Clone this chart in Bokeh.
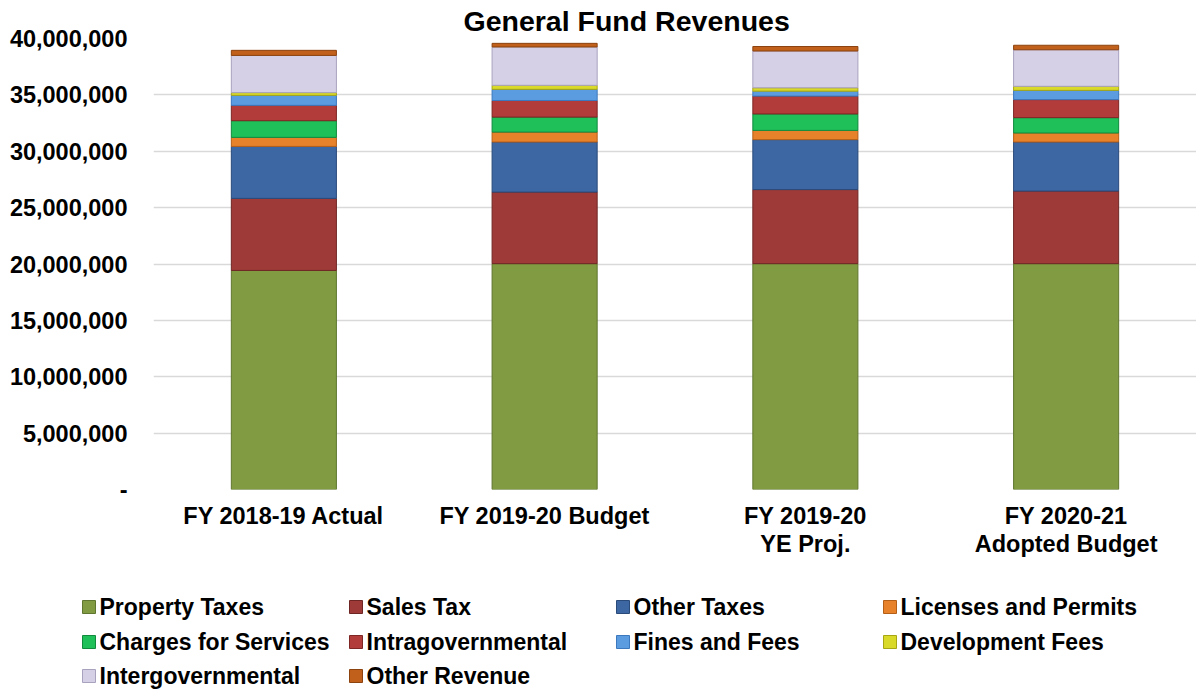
from bokeh.plotting import figure
from bokeh.models import ColumnDataSource, Range1d, FixedTicker, NumeralTickFormatter
from bokeh.layouts import column
from bokeh.core.properties import value
from bokeh.embed import file_html
from bokeh.resources import INLINE

categories = ["FY 2018-19 Actual", "FY 2019-20 Budget", "FY 2019-20\nYE Proj.", "FY 2020-21\nAdopted Budget"]
series_names = ["Property Taxes", "Sales Tax", "Other Taxes", "Licenses and Permits",
                "Charges for Services", "Intragovernmental", "Fines and Fees",
                "Development Fees", "Intergovernmental", "Other Revenue"]
property_taxes = [19430000, 20030000, 20030000, 20030000]
sales_tax = [6390000, 6350000, 6570000, 6440000]
other_taxes = [4610000, 4440000, 4430000, 4350000]
licenses_permits = [800000, 880000, 820000, 800000]
charges_services = [1480000, 1330000, 1460000, 1360000]
intragovernmental = [1360000, 1470000, 1580000, 1600000]
fines_fees = [890000, 990000, 440000, 820000]
development_fees = [240000, 360000, 300000, 360000]
intergovernmental = [3300000, 3400000, 3260000, 3240000]
other_revenue = [450000, 320000, 400000, 400000]
y_ticks = [0, 5000000, 10000000, 15000000, 20000000, 25000000, 30000000, 35000000, 40000000]

colors = ["#809b41", "#9e3b39", "#3d67a3", "#e8822a", "#1fbf5a",
          "#b23c3a", "#5b9be0", "#d9d92a", "#d6d0e6", "#c0601a"]
edge_colors = ["#5f7630", "#6e2624", "#2a4a7a", "#b35f18", "#128a3e",
               "#7e2624", "#3c78bd", "#a6a614", "#a9a2bf", "#8c430f"]

keys = ["s%d" % i for i in range(10)]
values = [property_taxes, sales_tax, other_taxes, licenses_permits, charges_services,
          intragovernmental, fines_fees, development_fees, intergovernmental, other_revenue]
data = {"x": [i + 0.5 for i in range(len(categories))]}
for k, v in zip(keys, values):
    data[k] = v
source = ColumnDataSource(data)

FONT = "Liberation Sans"

p = figure(width=1196, height=570, output_backend="svg", toolbar_location=None,
           x_range=Range1d(0, 4), y_range=Range1d(0, 40000000),
           min_border_left=153, min_border_right=0, min_border_top=38, min_border_bottom=81)
p.outline_line_color = None
p.frame_align = False

p.title.text = "General Fund  Revenues"
p.title.align = "left"
p.title.offset = 310
p.title.standoff = 4
p.title.text_font = FONT
p.title.text_font_style = "bold"
p.title.text_font_size = "28.5px"
p.title.text_color = "black"

rs = p.vbar_stack(keys, x="x", width=0.403, fill_color=colors, line_color=edge_colors,
                  line_width=1, source=source)

p.xgrid.grid_line_color = None
p.ygrid.grid_line_color = "#d9d9d9"
p.ygrid.grid_line_width = 1.5
p.ygrid.ticker = FixedTicker(ticks=y_ticks)

p.yaxis.ticker = FixedTicker(ticks=y_ticks)
p.yaxis.formatter = NumeralTickFormatter(format="0,0")
p.yaxis.major_label_overrides = {0: "-"}
p.yaxis.axis_line_color = None
p.yaxis.major_tick_line_color = None
p.yaxis.minor_tick_line_color = None
p.yaxis.major_tick_out = 0
p.yaxis.major_tick_in = 0
p.yaxis.minor_tick_out = 0
p.yaxis.major_label_standoff = 26
p.yaxis.major_label_text_font = FONT
p.yaxis.major_label_text_font_style = "bold"
p.yaxis.major_label_text_font_size = "23.5px"
p.yaxis.major_label_text_color = "black"

p.xaxis.ticker = FixedTicker(ticks=data["x"])
p.xaxis.major_label_overrides = {x: c for x, c in zip(data["x"], categories)}
p.xaxis.axis_line_color = None
p.xaxis.major_tick_line_color = None
p.xaxis.minor_tick_line_color = None
p.xaxis.major_tick_out = 0
p.xaxis.major_tick_in = 0
p.xaxis.minor_tick_out = 0
p.xaxis.major_label_standoff = 13
p.xaxis.major_label_text_font = FONT
p.xaxis.major_label_text_font_style = "bold"
p.xaxis.major_label_text_font_size = "23.5px"
p.xaxis.major_label_text_color = "black"
p.xaxis.major_label_text_line_height = 1.08

# legend panel: pixel coordinates (y grows downward)
leg = figure(width=1196, height=120, output_backend="svg", toolbar_location=None,
             x_range=Range1d(0, 1196), y_range=Range1d(690, 570),
             min_border=0, min_border_left=0, min_border_right=0,
             min_border_top=0, min_border_bottom=0)
leg.axis.visible = False
leg.grid.visible = False
leg.outline_line_color = None
leg.frame_align = False

col_left = [82, 349, 616, 883]
row_mid = [606, 641, 675]
lx, ly, tx, ty = [], [], [], []
for i in range(len(series_names)):
    r, c = divmod(i, 4)
    lx.append(col_left[c] + 6.5)
    ly.append(row_mid[r] + 0.5)
    tx.append(col_left[c] + 17)
    ty.append(row_mid[r])
leg_src = ColumnDataSource(dict(x=lx, y=ly, tx=tx, ty=ty, name=series_names,
                                fill=colors, edge=edge_colors))
leg.scatter("x", "y", marker="square", size=13, fill_color="fill", line_color="edge",
            line_width=1, source=leg_src)
leg.text("tx", "ty", text="name", text_font=value(FONT), text_font_style="bold",
         text_font_size="23px", text_baseline="middle", text_align="left",
         text_color="black", source=leg_src)

layout = column(p, leg, spacing=0)
open("out.html", "w").write(file_html(layout, INLINE))
